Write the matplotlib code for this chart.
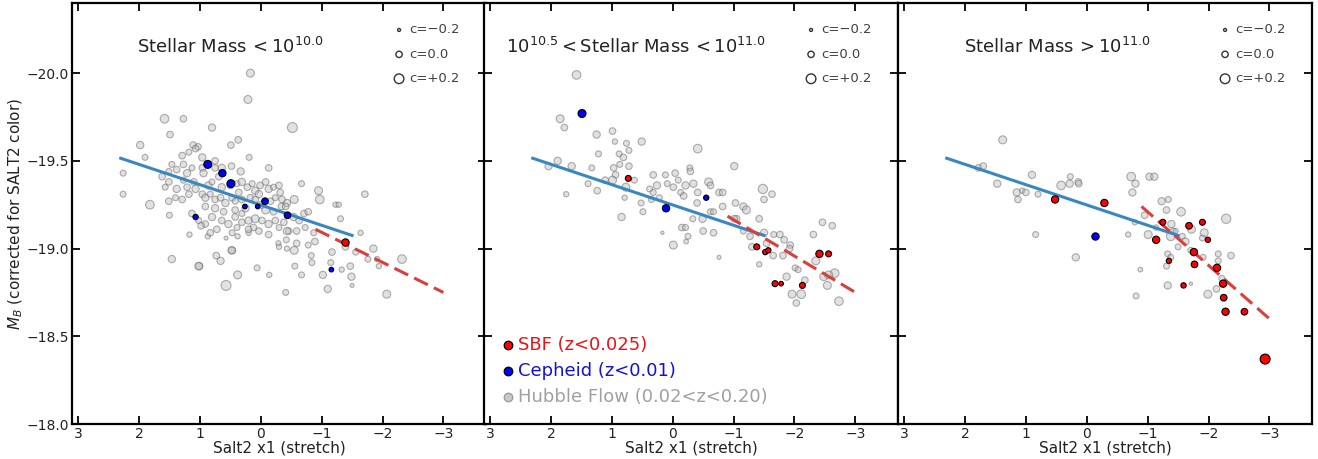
import numpy as np
import matplotlib
matplotlib.use("Agg")
import matplotlib.pyplot as plt

# ---- data: columns are x1, M_B, c ----
# panel 1: stellar mass < 1e10
hf_low = np.array([
    [0.17, -20.00, 0.10], [0.21, -19.85, 0.10], [1.58, -19.74, 0.14], [1.27, -19.74, 0.02],
    [-0.52, -19.69, 0.22], [0.80, -19.69, 0.06], [1.49, -19.65, 0.02], [1.98, -19.59, 0.06],
    [1.11, -19.59, 0.02], [0.37, -19.62, 0.02], [0.49, -19.59, 0.02], [1.90, -19.52, -0.02],
    [0.19, -19.52, -0.02], [1.03, -19.58, 0.02], [2.26, -19.43, -0.02], [2.26, -19.31, -0.02],
    [1.82, -19.25, 0.14], [1.50, -19.19, -0.02], [-0.13, -19.46, 0.02], [-0.67, -19.37, -0.02],
    [-0.95, -19.33, 0.10], [-0.97, -19.28, 0.14], [-1.71, -19.31, 0.02], [-1.23, -19.25, -0.06],
    [-1.28, -19.25, -0.06], [-1.31, -19.17, -0.02], [-1.64, -19.09, -0.06], [-1.85, -19.00, 0.06],
    [-2.32, -18.94, 0.14], [-1.76, -18.94, -0.02], [-1.91, -18.94, -0.06], [-1.94, -18.90, -0.06],
    [-2.07, -18.74, 0.10], [-1.50, -18.79, -0.14], [-1.47, -18.90, 0.02], [-1.49, -18.84, 0.06],
    [-1.33, -18.88, -0.06], [-1.15, -18.92, -0.02], [-1.02, -18.85, 0.06], [-1.10, -18.77, 0.06],
    [-1.17, -18.98, 0.02], [-1.39, -19.01, 0.02], [-1.56, -18.98, -0.02], [-0.83, -18.96, -0.02],
    [-0.84, -18.92, -0.02], [-0.78, -19.02, -0.02], [-0.89, -19.04, 0.02], [-0.87, -19.09, -0.02],
    [-0.56, -18.90, -0.02], [-0.67, -18.85, -0.02], [-0.41, -18.75, -0.02], [-0.14, -18.85, -0.06],
    [0.06, -18.89, -0.02], [0.38, -18.85, 0.10], [0.57, -18.79, 0.22], [0.66, -18.93, 0.06],
    [0.73, -18.96, 0.02], [1.01, -18.90, 0.06], [1.02, -18.90, 0.08], [1.46, -18.94, 0.06],
    [0.47, -18.99, 0.06], [0.48, -18.99, 0.06], [1.17, -19.08, -0.06], [0.87, -19.07, -0.06],
    [0.57, -19.06, -0.14], [0.38, -19.07, -0.06], [0.20, -19.09, -0.06], [-0.13, -19.08, 0.02],
    [-0.29, -19.03, -0.06], [-0.30, -19.01, -0.06], [-0.42, -19.05, -0.02], [-0.43, -19.00, -0.06],
    [-0.55, -18.99, 0.10], [-0.59, -19.03, 0.02], [-0.59, -19.10, 0.02], [-0.71, -19.20, 0.02],
    [-0.78, -19.21, 0.02], [-0.73, -19.12, -0.02], [-0.55, -19.28, 0.10], [-0.43, -19.26, 0.06],
    [-0.34, -19.24, 0.02],
    [1.29, -19.53, 0.02], [1.18, -19.55, -0.02], [1.07, -19.57, 0.02], [0.96, -19.52, 0.06],
    [1.46, -19.48, -0.02], [1.38, -19.45, 0.02], [1.27, -19.48, 0.02], [1.21, -19.43, 0.06],
    [1.13, -19.46, -0.02], [0.96, -19.46, 0.02], [0.94, -19.43, 0.06], [0.75, -19.46, 0.02],
    [0.64, -19.46, 0.06], [0.48, -19.47, 0.02], [0.33, -19.44, 0.06], [0.75, -19.50, 0.02],
    [1.51, -19.44, -0.02], [1.62, -19.41, 0.02],
    [1.57, -19.35, -0.02], [1.51, -19.38, 0.02], [1.38, -19.34, 0.06], [1.27, -19.39, -0.02],
    [1.21, -19.35, 0.02], [1.10, -19.38, 0.02], [1.07, -19.34, 0.06], [0.96, -19.31, 0.02],
    [0.86, -19.36, 0.06], [0.80, -19.38, -0.02], [0.69, -19.41, 0.02], [0.64, -19.35, 0.06],
    [0.50, -19.36, 0.02], [0.39, -19.37, -0.02], [0.31, -19.38, 0.06], [0.36, -19.32, 0.02],
    [0.22, -19.35, 0.02], [0.14, -19.37, -0.02], [0.09, -19.33, 0.06], [0.01, -19.36, 0.02],
    [-0.08, -19.38, 0.02], [-0.13, -19.34, 0.06], [-0.21, -19.35, -0.02], [-0.30, -19.36, 0.02],
    [-0.32, -19.32, 0.02], [0.03, -19.31, 0.06], [0.17, -19.29, 0.02],
    [1.51, -19.27, 0.02], [1.40, -19.29, -0.02], [1.29, -19.28, 0.02], [1.18, -19.31, 0.02],
    [0.91, -19.29, 0.06], [0.83, -19.31, -0.02], [0.75, -19.28, 0.02], [0.66, -19.29, 0.02],
    [0.58, -19.26, 0.06], [0.47, -19.29, 0.02], [0.42, -19.27, -0.02], [0.31, -19.28, 0.02],
    [0.25, -19.23, 0.06], [0.09, -19.28, 0.02], [-0.02, -19.25, 0.06], [-0.16, -19.27, 0.02],
    [-0.24, -19.29, -0.02], [-0.35, -19.28, 0.02], [-0.41, -19.24, 0.02], [-0.08, -19.22, 0.10],
    [0.91, -19.24, 0.02], [0.75, -19.23, 0.06], [0.61, -19.21, 0.02], [0.42, -19.22, 0.02],
    [0.31, -19.20, -0.02], [-0.21, -19.21, 0.02],
    [1.13, -19.20, 0.02], [1.02, -19.16, -0.02], [0.91, -19.14, 0.02], [0.80, -19.18, 0.06],
    [0.72, -19.11, 0.02], [0.64, -19.16, 0.02], [0.53, -19.14, 0.06], [0.42, -19.18, 0.02],
    [0.39, -19.12, -0.02], [0.31, -19.15, 0.02], [0.20, -19.16, 0.06], [0.12, -19.12, 0.02],
    [0.09, -19.17, 0.10], [0.03, -19.10, 0.02], [-0.02, -19.16, 0.02], [-0.13, -19.14, 0.06],
    [-0.24, -19.16, 0.02], [-0.30, -19.12, -0.02], [-0.38, -19.15, 0.02], [-0.46, -19.10, 0.02],
    [-0.54, -19.18, 0.06], [-0.63, -19.16, 0.02], [0.83, -19.09, 0.02], [0.47, -19.09, -0.02],
    [0.20, -19.11, 0.02], [-0.43, -19.10, 0.06], [0.98, -19.13, 0.02],
])
ceph_low = np.array([
    [0.87, -19.48, 0.10], [0.63, -19.43, 0.06], [0.49, -19.37, 0.10], [0.26, -19.24, -0.10],
    [0.05, -19.24, -0.10], [-0.07, -19.27, 0.02], [-0.44, -19.19, 0.02], [1.07, -19.18, -0.06],
    [-1.16, -18.88, -0.10],
])
sbf_low = np.array([[-1.38, -19.04, 0.06]])

# panel 2: 1e10.5 < stellar mass < 1e11
hf_mid = np.array([
    [1.58, -19.99, 0.14], [1.85, -19.74, 0.10], [1.78, -19.69, 0.02], [1.89, -19.50, 0.06],
    [2.04, -19.47, 0.06], [1.75, -19.31, -0.06], [1.66, -19.47, 0.06], [1.39, -19.37, -0.02],
    [1.24, -19.33, 0.02], [1.33, -19.46, -0.02], [1.25, -19.65, 0.06], [1.22, -19.54, -0.02],
    [0.99, -19.67, 0.02], [0.95, -19.61, -0.06], [0.76, -19.60, -0.02], [0.72, -19.56, -0.02],
    [0.88, -19.54, -0.02], [0.81, -19.52, 0.02], [0.87, -19.48, -0.02], [0.72, -19.47, 0.02],
    [0.97, -19.46, 0.02], [0.94, -19.42, 0.02], [0.99, -19.39, 0.10], [1.11, -19.39, 0.02],
    [0.77, -19.35, 0.10], [0.63, -19.39, -0.02], [0.79, -19.29, -0.06], [0.51, -19.61, 0.06],
    [0.52, -19.26, -0.02], [0.49, -19.21, -0.02], [0.84, -19.18, 0.06], [0.32, -19.42, 0.02],
    [0.26, -19.36, 0.06], [0.38, -19.34, -0.02], [0.32, -19.32, -0.02], [0.35, -19.28, -0.02],
    [0.22, -19.29, -0.02], [0.12, -19.42, -0.02], [0.09, -19.37, -0.02], [-0.04, -19.43, 0.02],
    [-0.01, -19.35, 0.02], [-0.09, -19.39, -0.02], [-0.13, -19.32, -0.02], [-0.18, -19.30, 0.02],
    [-0.21, -19.36, 0.06], [-0.28, -19.46, -0.02], [-0.29, -19.44, 0.02], [-0.34, -19.37, 0.06],
    [-0.41, -19.57, 0.14], [-0.41, -19.32, 0.02], [-0.40, -19.26, 0.02], [-0.49, -19.17, 0.06],
    [-0.59, -19.38, 0.10], [-0.62, -19.36, 0.02], [-0.62, -19.21, -0.02], [-0.67, -19.21, -0.02],
    [-0.67, -19.09, 0.02], [-0.76, -19.32, 0.02], [-0.82, -19.32, 0.02], [-0.82, -19.24, 0.02],
    [-1.01, -19.47, 0.06], [-1.03, -19.26, 0.02], [-1.16, -19.24, 0.06], [-1.21, -19.22, 0.10],
    [-1.05, -19.17, 0.02], [-1.01, -19.17, 0.02], [-1.42, -19.17, 0.02], [-1.48, -19.34, 0.18],
    [-1.63, -19.31, 0.02], [-1.50, -19.28, 0.02], [-1.16, -19.10, -0.02], [-1.27, -19.07, 0.02],
    [-1.50, -19.09, 0.06], [-1.66, -19.08, -0.02], [-1.76, -19.08, 0.02], [-1.83, -19.05, 0.02],
    [-1.93, -19.02, 0.02], [-1.92, -19.00, 0.02], [-1.81, -18.96, 0.02], [-1.65, -18.96, 0.02],
    [-1.54, -19.03, 0.02], [-1.42, -18.91, -0.06], [-1.30, -19.01, 0.02], [-1.87, -18.84, 0.06],
    [-2.01, -18.89, -0.02], [-2.06, -18.88, -0.02], [-2.17, -18.82, 0.02], [-1.96, -18.74, 0.10],
    [-2.11, -18.74, 0.14], [-2.03, -18.69, 0.02], [-2.31, -19.08, 0.02], [-2.46, -19.15, 0.02],
    [-2.62, -19.13, 0.02], [-2.35, -18.93, 0.10], [-2.48, -18.84, 0.10], [-2.54, -18.79, 0.10],
    [-2.66, -18.86, 0.14], [-2.73, -18.70, 0.14], [-2.56, -18.85, 0.10], [0.17, -19.09, -0.18],
    [-0.01, -19.02, 0.10], [-0.15, -19.12, 0.02], [-0.21, -19.12, -0.02], [-0.25, -19.07, -0.02],
    [-0.22, -19.04, -0.10], [-0.33, -19.17, -0.02], [-0.50, -19.10, 0.02], [-0.76, -18.95, -0.14],
])
ceph_mid = np.array([[1.49, -19.77, 0.10], [0.11, -19.23, 0.06], [-0.55, -19.29, -0.06]])
sbf_mid = np.array([
    [0.73, -19.40, -0.02], [-1.38, -19.01, -0.02], [-1.52, -18.98, -0.06], [-1.57, -18.99, -0.06],
    [-1.68, -18.80, -0.02], [-1.78, -18.80, -0.10], [-2.13, -18.79, -0.02], [-2.41, -18.97, 0.06],
    [-2.56, -18.97, -0.02],
])

# panel 3: stellar mass > 1e11
hf_high = np.array([
    [1.38, -19.62, 0.10], [1.78, -19.46, 0.02], [1.70, -19.47, 0.02], [1.47, -19.37, 0.06],
    [1.15, -19.32, 0.06], [1.13, -19.28, 0.02], [1.06, -19.33, -0.06], [1.00, -19.32, 0.02],
    [0.80, -19.31, -0.02], [0.90, -19.42, 0.06], [0.42, -19.36, 0.14], [0.28, -19.37, 0.06],
    [0.27, -19.41, -0.02], [0.14, -19.38, 0.02], [0.13, -19.37, 0.02], [0.84, -19.08, -0.02],
    [0.18, -18.95, 0.06], [-0.68, -19.08, -0.06], [-0.73, -19.41, 0.14], [-0.80, -19.37, 0.06],
    [-0.75, -19.32, 0.06], [-1.03, -19.41, 0.06], [-1.11, -19.41, 0.06], [-0.95, -19.19, 0.02],
    [-0.79, -19.15, -0.06], [-0.88, -18.88, -0.10], [-0.81, -18.73, -0.02], [-1.01, -19.08, 0.10],
    [-1.23, -19.27, 0.06], [-1.34, -19.28, -0.02], [-1.31, -19.22, 0.02], [-1.55, -19.21, 0.14],
    [-1.39, -19.14, 0.06], [-1.42, -19.10, -0.02], [-1.38, -19.07, 0.14], [-1.46, -19.10, -0.06],
    [-1.57, -19.07, -0.02], [-1.72, -19.11, 0.10], [-1.62, -19.04, 0.06], [-1.93, -19.09, 0.10],
    [-1.90, -19.06, -0.02], [-1.50, -19.01, -0.02], [-1.71, -18.99, -0.02], [-1.91, -18.95, -0.02],
    [-1.33, -18.97, -0.02], [-1.38, -18.95, -0.02], [-1.31, -18.90, -0.02], [-1.33, -18.79, 0.06],
    [-1.71, -18.80, -0.18], [-1.99, -18.74, 0.10], [-2.13, -18.77, 0.02], [-2.16, -18.97, -0.02],
    [-2.16, -18.93, -0.02], [-2.37, -18.96, 0.02], [-2.29, -19.17, 0.18], [-2.22, -18.83, -0.02],
    [-1.14, -19.12, -0.06],
])
ceph_high = np.array([[-0.13, -19.07, 0.06]])
sbf_high = np.array([
    [0.52, -19.28, 0.06], [-0.29, -19.26, 0.06], [-1.14, -19.05, 0.06], [-1.25, -19.15, -0.02],
    [-1.35, -18.93, -0.06], [-1.59, -18.79, -0.06], [-1.68, -19.13, 0.02], [-1.76, -18.98, 0.06],
    [-1.77, -18.91, 0.02], [-1.90, -19.15, -0.02], [-1.99, -19.05, -0.06], [-2.14, -18.89, 0.06],
    [-2.24, -18.80, 0.06], [-2.25, -18.72, 0.02], [-2.28, -18.64, 0.06], [-2.59, -18.64, 0.02],
    [-2.93, -18.37, 0.22],
])

# fit lines (endpoints)
blue_x = [2.3, -1.5]
blue_y = [-19.515, -19.075]
red_x = [-0.9, -3.0]
red_y_low = [-19.11, -18.75]
red_y_mid = [-19.185, -18.75]
red_y_high = [-19.24, -18.60]

titles = [r"Stellar Mass$\,<10^{10.0}$",
          r"$10^{10.5}<$Stellar Mass$\,<10^{11.0}$",
          r"Stellar Mass$\,>10^{11.0}$"]
title_x = [0.383, 0.367, 0.384]
legend_c = [-0.2, 0.0, 0.2]
legend_c_labels = ["c=\u22120.2", "c=0.0", "c=+0.2"]

panels = [(hf_low, ceph_low, sbf_low, red_y_low),
          (hf_mid, ceph_mid, sbf_mid, red_y_mid),
          (hf_high, ceph_high, sbf_high, red_y_high)]


def msize(c):
    # marker area in pt^2 from SALT2 colour
    d = (6.3 + 16.7 * np.asarray(c)) * 0.72
    return np.clip(d, 1.5, None) ** 2


fig = plt.figure(figsize=(13.18, 4.59), dpi=100)
lefts = [72 / 1318, 484 / 1318, 898 / 1318]
w = 414 / 1318
axes = [fig.add_axes([l, 35 / 459, w, 421 / 459]) for l in lefts]

for i, ax in enumerate(axes):
    hf, ceph, sbf, red_y = panels[i]
    ax.scatter(hf[:, 0], hf[:, 1], s=msize(hf[:, 2]), facecolor="#bdbdbd",
               edgecolor="#555555", linewidths=0.8, alpha=0.45, zorder=2)
    ax.plot(blue_x, blue_y, color="#3a86c1", lw=2.2, zorder=3)
    ax.plot(red_x, red_y, color="#d9403d", lw=2.2, dashes=(5, 2.2), zorder=3)
    ax.scatter(ceph[:, 0], ceph[:, 1], s=msize(ceph[:, 2]), facecolor="#0000ff",
               edgecolor="black", linewidths=0.8, zorder=4)
    ax.scatter(sbf[:, 0], sbf[:, 1], s=msize(sbf[:, 2]), facecolor="#ff0000",
               edgecolor="black", linewidths=0.8, zorder=4)

    ax.set_xlim(3.1, -3.7)
    ax.set_ylim(-18.0, -20.4)
    ax.set_xticks([3, 2, 1, 0, -1, -2, -3])
    ax.set_yticks([-20.0, -19.5, -19.0, -18.5, -18.0])
    ax.tick_params(direction="in", top=True, right=True, length=6, width=1.3,
                   labelsize=10, colors="black", labelcolor="#222222", pad=2)
    for sp in ax.spines.values():
        sp.set_linewidth(1.6)
    if i > 0:
        ax.tick_params(labelleft=False)
    ax.set_xlabel("Salt2 x1 (stretch)", fontsize=11, color="#222222", labelpad=0)

    ax.text(title_x[i], 0.895, titles[i], transform=ax.transAxes, ha="center",
            va="center", fontsize=13, color="#222222")

    # colour-size key
    for k, (cv, lab) in enumerate(zip(legend_c, legend_c_labels)):
        yk = 0.936 - k * 0.058
        ax.scatter([0.79], [yk], s=msize(cv), transform=ax.transAxes,
                   facecolor="none", edgecolor="#333333", linewidths=1.0, zorder=5)
        ax.text(0.815, yk, lab, transform=ax.transAxes, ha="left", va="center",
                fontsize=9.5, color="#404040")

axes[0].set_ylabel(r"$M_B$ (corrected for SALT2 color)", fontsize=11,
                   color="#222222", labelpad=1)

# sample legend in middle panel
samples = ["SBF (z<0.025)", "Cepheid (z<0.01)", "Hubble Flow (0.02<z<0.20)"]
sample_face = ["#ff0000", "#0000ff", "#c8c8c8"]
sample_edge = ["black", "black", "#999999"]
sample_text = ["#ee1111", "#1111dd", "#a0a0a0"]
for k in range(3):
    yk = 0.188 - k * 0.062
    axes[1].scatter([0.058], [yk], s=38, transform=axes[1].transAxes,
                    facecolor=sample_face[k], edgecolor=sample_edge[k],
                    linewidths=0.9, zorder=5)
    axes[1].text(0.083, yk, samples[k], transform=axes[1].transAxes, ha="left",
                 va="center", fontsize=13, color=sample_text[k])

fig.savefig("out.png", dpi=100)
